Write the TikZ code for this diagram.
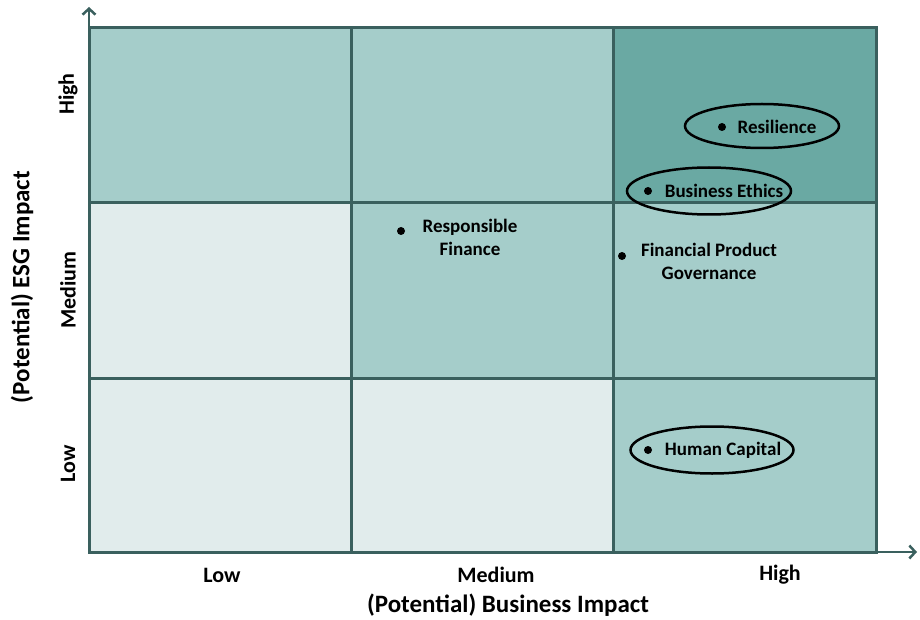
\documentclass[tikz,border=0pt]{standalone}
\usepackage{fontspec}
\setmainfont{Carlito}
\usetikzlibrary{shapes.geometric,arrows.meta}

\definecolor{celllight}{RGB}{225,236,236}
\definecolor{cellmid}{RGB}{165,205,202}
\definecolor{celldark}{RGB}{106,169,163}
\definecolor{gridline}{RGB}{58,96,94}

\tikzset{
	cell/.style={draw=gridline, line width=3pt},
	axis/.style={draw=gridline, line width=2.5pt, -{Straight Barb[length=6pt,width=13pt]}},
	topic/.style={font=\bfseries\fontsize{19}{23}\selectfont, align=center, inner sep=0pt},
	tick/.style={font=\bfseries\fontsize{22}{26}\selectfont, inner sep=0pt},
	title/.style={font=\bfseries\fontsize{25}{30}\selectfont, inner sep=0pt},
	dot/.style={shape=circle, fill=black, inner sep=0pt, minimum size=8pt},
	ring/.style={shape=ellipse, draw=black, line width=2.5pt}
}

\begin{document}
\begin{tikzpicture}[x=1pt, y=-1pt]
	\useasboundingbox (0, 0) rectangle (920, 620);

	% the nine cells
	\filldraw[cell, fill=cellmid]   (89, 28)  rectangle (351, 203);
	\filldraw[cell, fill=cellmid]   (351, 28) rectangle (613, 203);
	\filldraw[cell, fill=celldark]  (613, 28) rectangle (876, 203);
	\filldraw[cell, fill=celllight] (89, 203)  rectangle (351, 378);
	\filldraw[cell, fill=cellmid]   (351, 203) rectangle (613, 378);
	\filldraw[cell, fill=cellmid]   (613, 203) rectangle (876, 378);
	\filldraw[cell, fill=celllight] (89, 378)  rectangle (351, 552);
	\filldraw[cell, fill=celllight] (351, 378) rectangle (613, 552);
	\filldraw[cell, fill=cellmid]   (613, 378) rectangle (876, 552);

	% axes
	\coordinate (origin) at (89, 552);
	\coordinate (ytip)   at (89, 7);
	\coordinate (xtip)   at (917, 552);
	\draw[axis] (origin) -- (ytip);
	\draw[axis] (origin) -- (xtip);

	\node[tick] (xlow)  at (222, 575) {Low};
	\node[tick] (xmed)  at (496, 575) {Medium};
	\node[tick] (xhigh) at (780, 575) {High};
	\node[title] (xtitle) at (508, 605) {(Potential) Business Impact};

	\node[tick, rotate=90] (yhigh) at (68, 94)  {High};
	\node[tick, rotate=90] (ymed)  at (68, 290) {Medium};
	\node[tick, rotate=90] (ylow)  at (68, 464) {Low};
	\node[title, rotate=90] (ytitle) at (22, 287) {(Potential) ESG Impact};

	% topics
	\node[ring, minimum width=154pt, minimum height=44pt] (resring) at (762, 126) {};
	\node[dot] (resdot) at (722, 127) {};
	\node[topic] (res) at (777, 127) {Resilience};

	\node[ring, minimum width=164pt, minimum height=47pt] (ethring) at (709, 191) {};
	\node[dot] (ethdot) at (648, 191) {};
	\node[topic] (eth) at (724, 191) {Business Ethics};

	\node[dot] (findot) at (401, 231) {};
	\node[topic] (fin) at (470, 237) {Responsible\\Finance};

	\node[dot] (govdot) at (622, 256) {};
	\node[topic] (gov) at (709, 261) {Financial Product\\Governance};

	\node[ring, minimum width=163pt, minimum height=47pt] (humring) at (712, 450) {};
	\node[dot] (humdot) at (648, 450) {};
	\node[topic] (hum) at (723, 450) {Human Capital};
\end{tikzpicture}
\end{document}
